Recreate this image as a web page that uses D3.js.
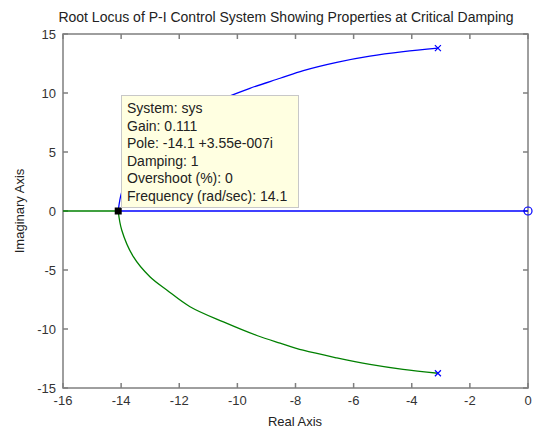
<!DOCTYPE html>
<html>
<head>
<meta charset="utf-8">
<script src="https://cdn.jsdelivr.net/npm/d3@7"></script>
<style>
  body { margin: 0; background: #fff; }
  svg text { font-family: "Liberation Sans", Arial, sans-serif; }
</style>
</head>
<body>
<div id="chart"></div>
<script>
// root locus branches (real, imag)
const upperBranch = [
  [-14.1, 0], [-13.98, 1.6], [-13.58, 3.85], [-13.0, 5.55], [-12.43, 6.7],
  [-11.63, 8.1], [-10.9, 9.0], [-10.25, 9.75], [-9.57, 10.4], [-8.53, 11.25],
  [-7.73, 11.9], [-6.58, 12.6], [-5.44, 13.12], [-4.29, 13.5], [-3.1, 13.8]
]
const lowerBranch = [
  [-14.1, 0], [-13.98, -1.61], [-13.58, -3.87], [-13.01, -5.57], [-12.43, -6.69],
  [-11.63, -8.11], [-10.48, -9.4], [-9.33, -10.55], [-8.53, -11.2], [-7.74, -11.8],
  [-6.58, -12.45], [-5.44, -13.0], [-4.3, -13.42], [-3.1, -13.75]
]
const realAxisBlue = [[-14.1, 0], [0, 0]]
const realAxisGreen = [[-16, 0], [-14.1, 0]]
const poles = [[-3.1, 13.8], [-3.1, -13.75]]
const zeros = [[0, 0]]
const selectedPole = [-14.1, 0]

const xTicks = [-16, -14, -12, -10, -8, -6, -4, -2, 0]
const yTicks = [-15, -10, -5, 0, 5, 10, 15]

const tipLines = [
  "System: sys",
  "Gain: 0.111",
  "Pole: -14.1 +3.55e-007i",
  "Damping: 1",
  "Overshoot (%): 0",
  "Frequency (rad/sec): 14.1"
]

const width = 537, height = 430
const margin = { top: 34, right: 9, bottom: 42, left: 63 }
const axisColor = "#7f7f7f"
const textColor = "#333"

const svg = d3.select("#chart").append("svg")
  .attr("width", width)
  .attr("height", height)

const x = d3.scaleLinear().domain([-16, 0]).range([margin.left, width - margin.right])
const y = d3.scaleLinear().domain([-15, 15]).range([height - margin.bottom, margin.top])

/*
 * axes box with inward ticks
 */
const box = svg.append("g")
box.append("rect")
  .attr("x", x(-16)).attr("y", y(15))
  .attr("width", x(0) - x(-16)).attr("height", y(-15) - y(15))
  .attr("fill", "none").attr("stroke", axisColor).attr("stroke-width", 1.5)

const tickLen = 5
box.selectAll(".xt").data(xTicks).enter().append("path")
  .attr("d", d => `M${x(d)},${y(-15)}v${-tickLen}M${x(d)},${y(15)}v${tickLen}`)
  .attr("stroke", axisColor).attr("stroke-width", 1.5)
box.selectAll(".yt").data(yTicks).enter().append("path")
  .attr("d", d => `M${x(-16)},${y(d)}h${tickLen}M${x(0)},${y(d)}h${-tickLen}`)
  .attr("stroke", axisColor).attr("stroke-width", 1.5)

svg.selectAll(".xl").data(xTicks).enter().append("text")
  .attr("x", d => x(d)).attr("y", y(-15) + 17)
  .attr("text-anchor", "middle").attr("font-size", 13).attr("fill", textColor)
  .text(d => d)
svg.selectAll(".yl").data(yTicks).enter().append("text")
  .attr("x", x(-16) - 7).attr("y", d => y(d) + 5)
  .attr("text-anchor", "end").attr("font-size", 13).attr("fill", textColor)
  .text(d => d)

/*
 * locus branches
 */
const line = d3.line().x(d => x(d[0])).y(d => y(d[1])).curve(d3.curveCatmullRom)
const plot = svg.append("g")
plot.append("path").datum(realAxisGreen).attr("d", line)
  .attr("fill", "none").attr("stroke", "#008000").attr("stroke-width", 1.3)
plot.append("path").datum(lowerBranch).attr("d", line)
  .attr("fill", "none").attr("stroke", "#008000").attr("stroke-width", 1.3)
plot.append("path").datum(upperBranch).attr("d", line)
  .attr("fill", "none").attr("stroke", "#0000ff").attr("stroke-width", 1.3)
plot.append("path").datum(realAxisBlue).attr("d", line)
  .attr("fill", "none").attr("stroke", "#0000ff").attr("stroke-width", 1.5)

// poles (x) and zero (o)
plot.selectAll(".pole").data(poles).enter().append("path")
  .attr("d", d => `M${x(d[0]) - 3},${y(d[1]) - 3}l6,6M${x(d[0]) - 3},${y(d[1]) + 3}l6,-6`)
  .attr("stroke", "#0000ff").attr("stroke-width", 1.2)
plot.selectAll(".zero").data(zeros).enter().append("circle")
  .attr("cx", d => x(d[0])).attr("cy", d => y(d[1])).attr("r", 4)
  .attr("fill", "none").attr("stroke", "#0000ff").attr("stroke-width", 1.2)

/*
 * data tip
 */
const tip = svg.append("g")
tip.append("rect")
  .attr("x", 121.5).attr("y", 95.5).attr("width", 177).attr("height", 112)
  .attr("fill", "#ffffe1").attr("stroke", "#c8c8c8")
tip.selectAll("text").data(tipLines).enter().append("text")
  .attr("x", 127).attr("y", (d, i) => 113 + i * 17.6)
  .attr("font-size", 14).attr("fill", "#222")
  .text(d => d)

plot.append("rect")
  .attr("x", x(selectedPole[0]) - 3.5).attr("y", y(selectedPole[1]) - 3.5)
  .attr("width", 7).attr("height", 7).attr("fill", "#000")

/*
 * titles
 */
svg.append("text")
  .attr("x", 286).attr("y", 22)
  .attr("text-anchor", "middle").attr("font-size", 14).attr("fill", "#222")
  .text("Root Locus of P-I Control System Showing Properties at Critical Damping")
svg.append("text")
  .attr("x", 295).attr("y", 426)
  .attr("text-anchor", "middle").attr("font-size", 13).attr("fill", "#222")
  .text("Real Axis")
svg.append("text")
  .attr("transform", `translate(24,${y(0)}) rotate(-90)`)
  .attr("text-anchor", "middle").attr("font-size", 13).attr("fill", "#222")
  .text("Imaginary Axis")
</script>
</body>
</html>
